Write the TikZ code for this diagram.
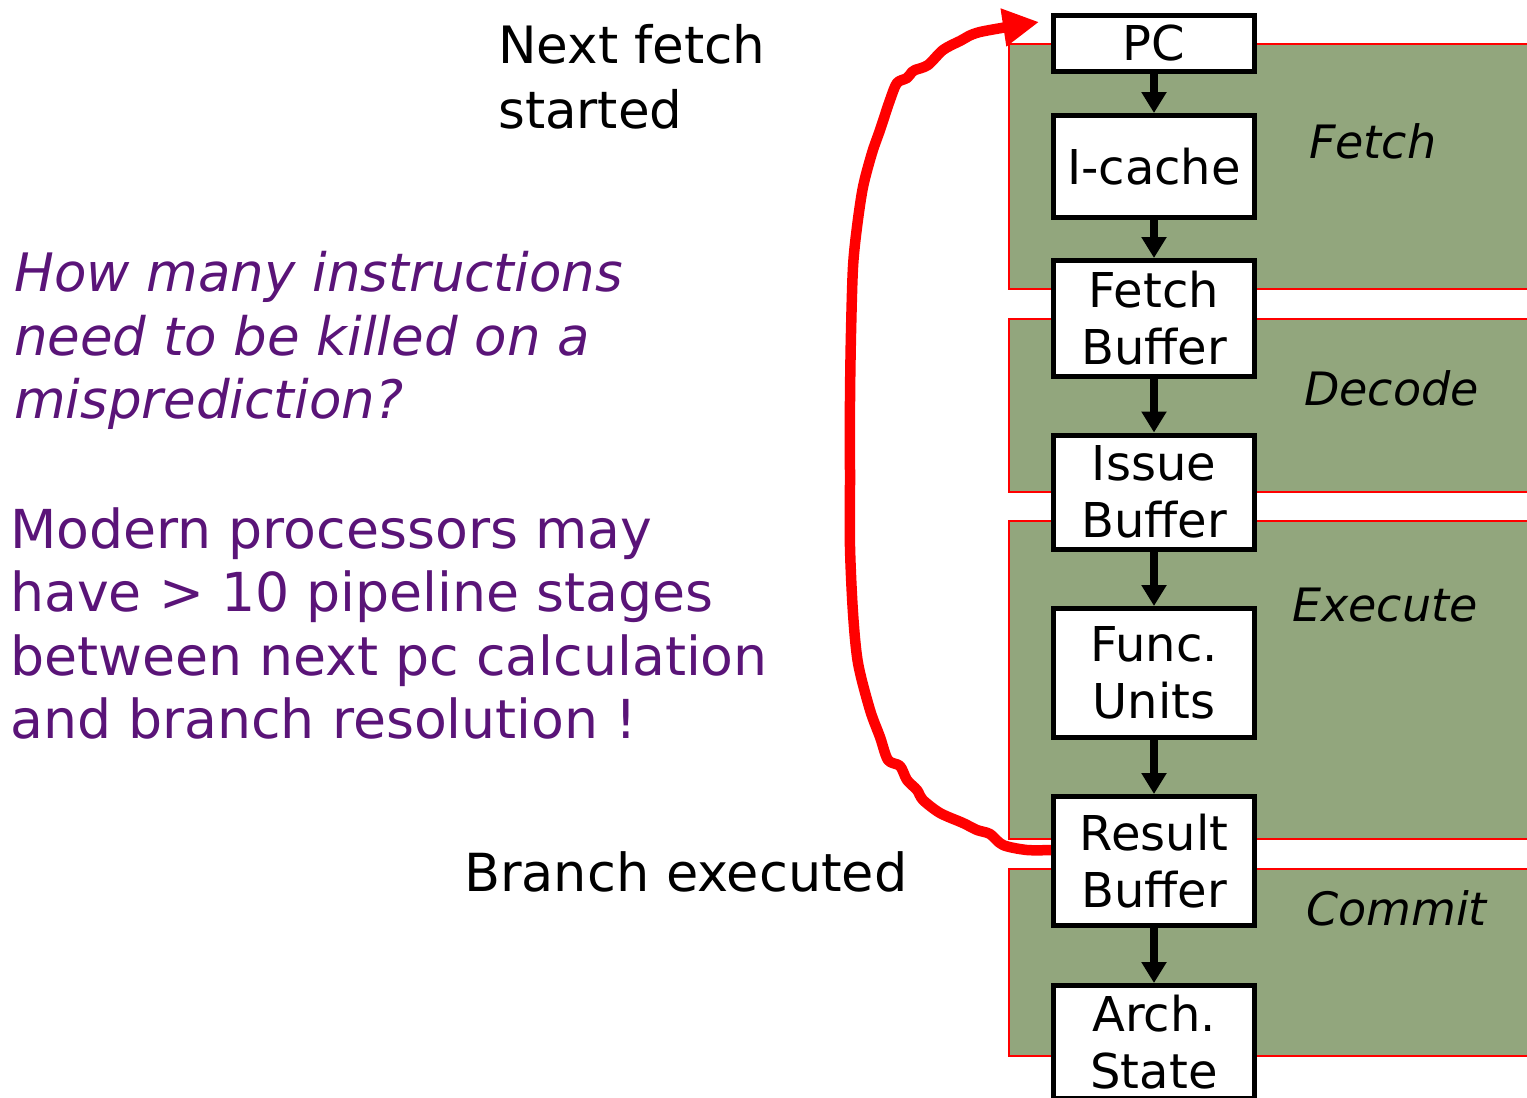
\documentclass[tikz,border=0pt]{standalone}
\usepackage{fontspec}
\setmainfont{DejaVu Sans}
\usetikzlibrary{arrows.meta}

\definecolor{stagegreen}{RGB}{146,166,125}
\definecolor{notepurple}{RGB}{90,20,120}
\definecolor{flowred}{RGB}{255,0,0}

\begin{document}
\begin{tikzpicture}[x=1pt,y=-1pt,
  stagebox/.style={fill=stagegreen, draw=flowred, line width=2pt},
  unit/.style={draw=black, fill=white, line width=5pt, minimum width=201pt,
    inner sep=0pt, align=center, font=\fontsize{48}{57}\selectfont},
  flow/.style={draw=black, line width=8pt, -{Triangle[length=21pt,width=24pt]}},
  stagelabel/.style={anchor=base west, inner sep=0pt,
    font=\fontsize{46}{55}\selectfont\itshape},
  note/.style={anchor=base west, inner sep=0pt, align=left},
]
\useasboundingbox (0,0) rectangle (1527,1098);

% pipeline stage bands
\draw[stagebox] (1009,44) rectangle (1545,289);
\draw[stagebox] (1009,319) rectangle (1545,492);
\draw[stagebox] (1009,521) rectangle (1545,839);
\draw[stagebox] (1009,869) rectangle (1545,1056);

\node[stagelabel] (lfetch) at (1309,158.3) {Fetch};
\node[stagelabel] (ldecode) at (1304,405) {Decode};
\node[stagelabel] (lexec) at (1292,621.7) {Execute};
\node[stagelabel] (lcommit) at (1306,925) {Commit};

% pipeline units
\node[unit, minimum height=56pt]  (pc) at (1154,43.5) {PC};
\node[unit, minimum height=102pt] (ic) at (1154,166.5) {I-cache};
\node[unit, minimum height=116pt] (fb) at (1154,318.5) {Fetch\\Buffer};
\node[unit, minimum height=114pt] (ib) at (1154,492) {Issue\\Buffer};
\node[unit, minimum height=129pt] (fu) at (1154,673) {Func.\\Units};
\node[unit, minimum height=129pt] (rb) at (1154,861) {Result\\Buffer};
\node[unit, minimum height=113pt] (as) at (1154,1042) {Arch.\\State};

\draw[flow] (pc.south) -- (ic.north);
\draw[flow] (ic.south) -- (fb.north);
\draw[flow] (fb.south) -- (ib.north);
\draw[flow] (ib.south) -- (fu.north);
\draw[flow] (fu.south) -- (rb.north);
\draw[flow] (rb.south) -- (as.north);

% redirect from branch resolution back to the PC
\coordinate (brstart) at ([yshift=11pt]rb.west);
\coordinate (pcin) at ([xshift=-12pt,yshift=21.5pt]pc.west);
\draw[flowred, line width=10.5pt, line join=round,
      -{Triangle[length=36pt,width=36pt]}]
  plot[smooth, tension=0.5] coordinates {
    (brstart) (1027,850) (1003,845) (990,834) (977,830) (963,823)
    (940,813) (923,800) (917,790) (907,780) (900,766) (888,760)
    (880,737) (870,710) (858,663) (853,613) (850,547) (850,480)
    (850,400) (851,333) (853,267) (857,227) (863,187) (872,153)
    (880,130) (890,100) (897,83) (907,78) (912,72) (915,70)
    (928,65) (943,50) (960,41) (980,32) (pcin)};

% annotations (base anchor sits on the last line)
\node[note, font=\fontsize{51.5}{65}\selectfont] (nextfetch) at (498,128.3)
  {Next fetch\\started};
\node[note, font=\fontsize{52.5}{62}\selectfont] (branchexec) at (464,891.7)
  {Branch executed};
\node[note, text=notepurple, font=\fontsize{53}{63.3}\selectfont\itshape]
  (question) at (14,418.3)
  {How many instructions\\need to be killed on a\\misprediction?};
\node[note, text=notepurple, font=\fontsize{53.7}{63.3}\selectfont]
  (modern) at (10,738.3)
  {Modern processors may\\have > 10 pipeline stages\\between next pc calculation\\and branch resolution !};
\end{tikzpicture}
\end{document}
